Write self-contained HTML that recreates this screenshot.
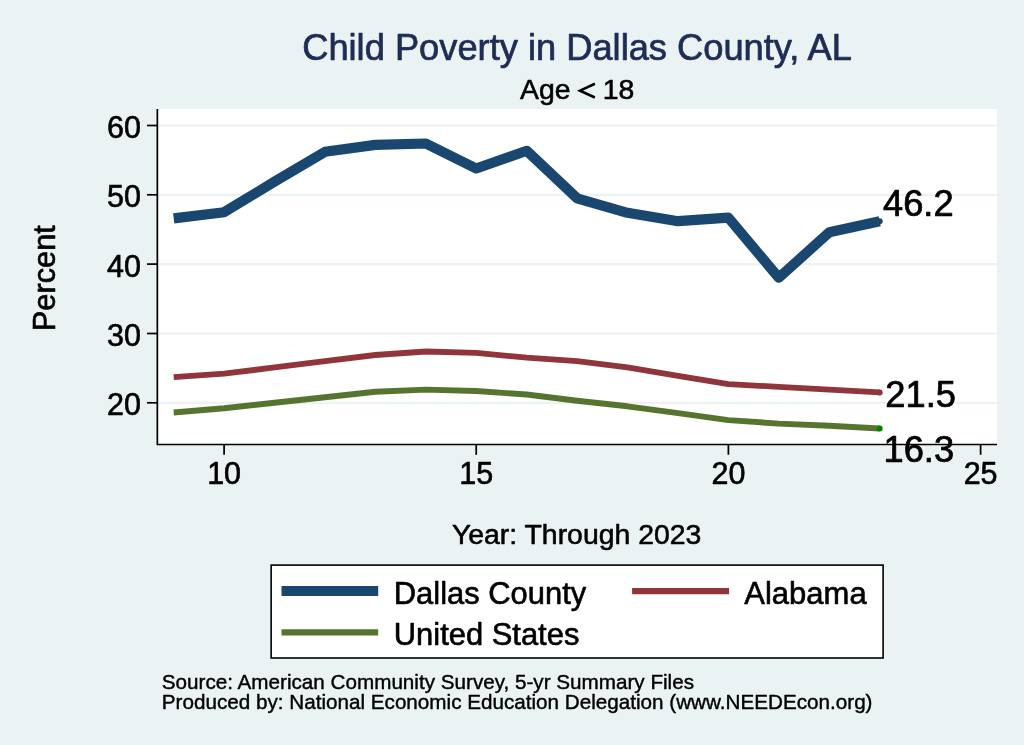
<!DOCTYPE html>
<html><head><meta charset="utf-8"><title>Child Poverty in Dallas County, AL</title>
<style>html,body{margin:0;padding:0;background:#eaf2f3;}body{width:1024px;height:745px;overflow:hidden;font-family:"Liberation Sans",sans-serif;}</style>
</head><body>
<svg width="1024" height="745" viewBox="0 0 1024 745" style="display:block;will-change:transform;font-family:'Liberation Sans',sans-serif">
<rect x="0" y="0" width="1024" height="745" fill="#eaf2f3"/>
<rect x="157" y="109" width="840" height="335" fill="#ffffff"/>
<line x1="157" x2="997" y1="402.8" y2="402.8" stroke="#eaf2f3" stroke-width="2.2"/>
<line x1="157" x2="997" y1="333.5" y2="333.5" stroke="#eaf2f3" stroke-width="2.2"/>
<line x1="157" x2="997" y1="264.1" y2="264.1" stroke="#eaf2f3" stroke-width="2.2"/>
<line x1="157" x2="997" y1="194.8" y2="194.8" stroke="#eaf2f3" stroke-width="2.2"/>
<line x1="157" x2="997" y1="125.5" y2="125.5" stroke="#eaf2f3" stroke-width="2.2"/>
<polyline points="173.7,218.4 224.1,212.2 274.5,181.7 325.0,151.8 375.4,144.9 425.8,143.5 476.2,168.5 526.7,150.8 577.1,198.3 627.5,212.8 678.0,221.2 728.4,217.7 778.8,277.7 829.3,232.3 879.7,221.2" fill="none" stroke="#1a476f" stroke-width="10.2" stroke-linejoin="round" stroke-linecap="butt"/>
<polyline points="173.7,377.1 224.1,373.7 274.5,367.4 325.0,361.2 375.4,355.0 425.8,351.5 476.2,352.9 526.7,357.7 577.1,361.2 627.5,367.4 678.0,375.8 728.4,384.1 778.8,386.9 829.3,389.6 879.7,392.4" fill="none" stroke="#90353b" stroke-width="5.8" stroke-linejoin="round" stroke-linecap="butt"/>
<polyline points="173.7,412.5 224.1,408.3 274.5,402.8 325.0,397.3 375.4,391.7 425.8,389.6 476.2,391.0 526.7,394.5 577.1,400.7 627.5,406.3 678.0,413.2 728.4,420.1 778.8,423.6 829.3,425.7 879.7,428.5" fill="none" stroke="#55752f" stroke-width="5.9" stroke-linejoin="round" stroke-linecap="butt"/>
<circle cx="879.7" cy="221.2" r="3" fill="#1a476f"/>
<circle cx="879.7" cy="392.4" r="3" fill="#90353b"/>
<circle cx="879.7" cy="428.5" r="3" fill="#008000"/>
<polyline points="157.35,109 157.35,444.5 997,444.5" fill="none" stroke="#000" stroke-width="1.7" stroke-linejoin="round"/>
<line x1="147" x2="157" y1="402.8" y2="402.8" stroke="#000" stroke-width="1.7"/>
<text x="141" y="415.2" font-size="30.5" text-anchor="end" fill="#000" stroke="#000" stroke-width="0.61" stroke-linejoin="round">20</text>
<line x1="147" x2="157" y1="333.5" y2="333.5" stroke="#000" stroke-width="1.7"/>
<text x="141" y="345.9" font-size="30.5" text-anchor="end" fill="#000" stroke="#000" stroke-width="0.61" stroke-linejoin="round">30</text>
<line x1="147" x2="157" y1="264.1" y2="264.1" stroke="#000" stroke-width="1.7"/>
<text x="141" y="276.5" font-size="30.5" text-anchor="end" fill="#000" stroke="#000" stroke-width="0.61" stroke-linejoin="round">40</text>
<line x1="147" x2="157" y1="194.8" y2="194.8" stroke="#000" stroke-width="1.7"/>
<text x="141" y="207.2" font-size="30.5" text-anchor="end" fill="#000" stroke="#000" stroke-width="0.61" stroke-linejoin="round">50</text>
<line x1="147" x2="157" y1="125.5" y2="125.5" stroke="#000" stroke-width="1.7"/>
<text x="141" y="137.9" font-size="30.5" text-anchor="end" fill="#000" stroke="#000" stroke-width="0.61" stroke-linejoin="round">60</text>
<line x1="224.1" x2="224.1" y1="444" y2="454.8" stroke="#000" stroke-width="1.75"/>
<text x="224.1" y="484.3" font-size="30.5" text-anchor="middle" fill="#000" stroke="#000" stroke-width="0.61" stroke-linejoin="round">10</text>
<line x1="476.2" x2="476.2" y1="444" y2="454.8" stroke="#000" stroke-width="1.75"/>
<text x="476.2" y="484.3" font-size="30.5" text-anchor="middle" fill="#000" stroke="#000" stroke-width="0.61" stroke-linejoin="round">15</text>
<line x1="728.4" x2="728.4" y1="444" y2="454.8" stroke="#000" stroke-width="1.75"/>
<text x="728.4" y="484.3" font-size="30.5" text-anchor="middle" fill="#000" stroke="#000" stroke-width="0.61" stroke-linejoin="round">20</text>
<line x1="980.6" x2="980.6" y1="444" y2="454.8" stroke="#000" stroke-width="1.75"/>
<text x="980.6" y="484.3" font-size="30.5" text-anchor="middle" fill="#000" stroke="#000" stroke-width="0.61" stroke-linejoin="round">25</text>
<text x="883" y="216" font-size="36.3" fill="#000" stroke="#000" stroke-width="0.73" stroke-linejoin="round">46.2</text>
<text x="885.3" y="407.3" font-size="36.3" fill="#000" stroke="#000" stroke-width="0.73" stroke-linejoin="round">21.5</text>
<text x="883.5" y="462" font-size="36.3" fill="#000" stroke="#000" stroke-width="0.73" stroke-linejoin="round">16.3</text>
<text x="577.0" y="59.6" font-size="36.28" text-anchor="middle" fill="#1e2d53" stroke="#1e2d53" stroke-width="0.73" stroke-linejoin="round">Child Poverty in Dallas County, AL</text>
<text x="520.0" y="98.6" font-size="28.4" fill="#000" stroke="#000" stroke-width="0.57" stroke-linejoin="round">Age</text>
<text x="634.4" y="98.6" font-size="28.4" text-anchor="end" fill="#000" stroke="#000" stroke-width="0.57" stroke-linejoin="round">18</text>
<polyline points="594.9,83.8 580.0,90.65 594.9,97.5" fill="none" stroke="#000" stroke-width="2.6" stroke-linejoin="miter" stroke-linecap="butt"/>
<text x="576.6" y="543.5" font-size="28.4" text-anchor="middle" fill="#000" stroke="#000" stroke-width="0.57" stroke-linejoin="round">Year: Through 2023</text>
<text transform="translate(55.2,278.2) rotate(-90)" font-size="30.76" text-anchor="middle" fill="#000" stroke="#000" stroke-width="0.62" stroke-linejoin="round">Percent</text>
<rect x="271.15" y="565.1" width="611.95" height="92.9" fill="#fff" stroke="#000" stroke-width="1.6"/>
<line x1="281.5" x2="378.2" y1="591.1" y2="591.1" stroke="#1a476f" stroke-width="10"/>
<line x1="281.5" x2="378.2" y1="632.4" y2="632.4" stroke="#55752f" stroke-width="6.1"/>
<line x1="632.1" x2="729.1" y1="591.1" y2="591.1" stroke="#90353b" stroke-width="6.1"/>
<text x="393.8" y="604.1" font-size="30.92" fill="#000" stroke="#000" stroke-width="0.62" stroke-linejoin="round">Dallas County</text>
<text x="393.8" y="644.6" font-size="30.92" fill="#000" stroke="#000" stroke-width="0.62" stroke-linejoin="round">United States</text>
<text x="744.3" y="604.1" font-size="31" fill="#000" stroke="#000" stroke-width="0.62" stroke-linejoin="round">Alabama</text>
<text x="161.8" y="688.9" font-size="20.67" fill="#000" stroke="#000" stroke-width="0.41" stroke-linejoin="round">Source: American Community Survey, 5-yr Summary Files</text>
<text x="161.8" y="709" font-size="20.67" fill="#000" stroke="#000" stroke-width="0.41" stroke-linejoin="round">Produced by: National Economic Education Delegation (www.NEEDEcon.org)</text>
</svg>
</body></html>
